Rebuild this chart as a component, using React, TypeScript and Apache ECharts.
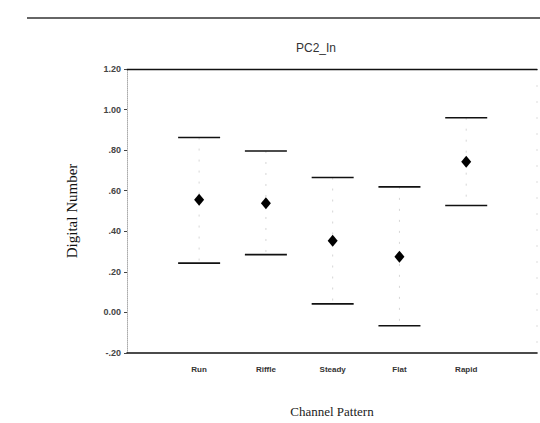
import React, { useEffect, useRef } from "react";
import * as echarts from "echarts";

const categories = ["Run", "Riffle", "Steady", "Flat", "Rapid"];
const meanValues = [0.555, 0.538, 0.353, 0.275, 0.743];
const upperValues = [0.862, 0.796, 0.665, 0.619, 0.96];
const lowerValues = [0.243, 0.285, 0.042, -0.066, 0.527];
const yTickValues = [-0.2, 0, 0.2, 0.4, 0.6, 0.8, 1.0, 1.2];
const yTickLabels = ["-.20", "0.00", ".20", ".40", ".60", ".80", "1.00", "1.20"];
const categoryPositions = [1, 2, 3, 4, 5];

export default function App() {
  const ref = useRef<HTMLDivElement>(null);

  useEffect(() => {
    if (!ref.current) return;
    const chart = echarts.init(ref.current, undefined, { renderer: "svg" });

    const errorData = categories.map((c, i) => [categoryPositions[i], lowerValues[i], upperValues[i]]);
    const meanData = categories.map((c, i) => [categoryPositions[i], meanValues[i]]);

    const yLabel = (v: number) => {
      let best = 0;
      let bd = Infinity;
      yTickValues.forEach((t, i) => {
        const d = Math.abs(t - v);
        if (d < bd) {
          bd = d;
          best = i;
        }
      });
      return yTickLabels[best];
    };

    chart.setOption({
      animation: false,
      backgroundColor: "#ffffff",
      grid: { left: 127, right: 3, top: 69, bottom: 70 },
      graphic: [
        {
          type: "line",
          shape: { x1: 27, y1: 18, x2: 540, y2: 18 },
          style: { stroke: "#333", lineWidth: 1.4 },
        },
        {
          type: "text",
          x: 316,
          y: 48,
          style: {
            text: "PC2_In",
            textAlign: "center",
            textVerticalAlign: "middle",
            fontSize: 12,
            fontFamily: "Liberation Sans Narrow, Liberation Sans, sans-serif",
            fill: "#333",
          },
        },
        {
          type: "line",
          shape: { x1: 537, y1: 69, x2: 537, y2: 353 },
          style: { stroke: "#ddd", lineWidth: 1, lineDash: [2, 14] },
        },
      ],
      xAxis: [
        {
          type: "value",
          min: -0.08,
          max: 6.06,
          position: "bottom",
          splitLine: { show: false },
          axisTick: { show: false },
          axisLine: { show: true, onZero: false, lineStyle: { color: "#111", width: 1.6 } },
          axisLabel: {
            customValues: categoryPositions,
            formatter: (v: number) => categories[Math.round(v) - 1] ?? "",
            fontSize: 8,
            fontFamily: "Liberation Sans, sans-serif",
            fontWeight: "bold",
            color: "#333",
            margin: 12,
          },
          name: "Channel Pattern",
          nameLocation: "middle",
          nameGap: 52,
          nameTextStyle: {
            fontFamily: "Liberation Serif, serif",
            fontSize: 13,
            color: "#222",
          },
        },
        {
          type: "value",
          min: -0.08,
          max: 6.06,
          position: "top",
          splitLine: { show: false },
          axisTick: { show: false },
          axisLabel: { show: false },
          axisLine: { show: true, onZero: false, lineStyle: { color: "#111", width: 1.4 } },
        },
      ],
      yAxis: {
        type: "value",
        min: -0.2,
        max: 1.2,
        interval: 0.2,
        splitLine: { show: false },
        axisLine: { show: true, onZero: false, lineStyle: { color: "#aaa", width: 1, type: "dotted" } },
        axisTick: { show: true, length: 3, lineStyle: { color: "#444", width: 1 } },
        axisLabel: {
          formatter: yLabel,
          fontSize: 9,
          fontFamily: "Liberation Sans, sans-serif",
          fontWeight: "bold",
          color: "#444",
          margin: 6,
        },
        name: "Digital Number",
        nameLocation: "middle",
        nameGap: 48,
        nameRotate: 90,
        nameTextStyle: {
          fontFamily: "Liberation Serif, serif",
          fontSize: 15,
          color: "#111",
        },
      },
      series: [
        {
          type: "custom",
          xAxisIndex: 0,
          data: errorData,
          renderItem: (params: any, api: any) => {
            const x = api.value(0);
            const lo = api.value(1);
            const hi = api.value(2);
            const pHi = api.coord([x, hi]);
            const pLo = api.coord([x, lo]);
            const hw = 21;
            return {
              type: "group",
              children: [
                {
                  type: "line",
                  shape: { x1: pHi[0], y1: pHi[1], x2: pLo[0], y2: pLo[1] },
                  style: { stroke: "#ccc", lineWidth: 0.8, lineDash: [2, 9] },
                },
                {
                  type: "line",
                  shape: { x1: pHi[0] - hw, y1: pHi[1], x2: pHi[0] + hw, y2: pHi[1] },
                  style: { stroke: "#111", lineWidth: 1.6 },
                },
                {
                  type: "line",
                  shape: { x1: pLo[0] - hw, y1: pLo[1], x2: pLo[0] + hw, y2: pLo[1] },
                  style: { stroke: "#111", lineWidth: 1.6 },
                },
              ],
            };
          },
          z: 2,
        },
        {
          type: "scatter",
          xAxisIndex: 0,
          data: meanData,
          symbol: "diamond",
          symbolSize: [10, 12],
          itemStyle: { color: "#000", opacity: 1 },
          z: 3,
        },
      ],
    });

    return () => chart.dispose();
  }, []);

  return (
    <div
      ref={ref}
      style={{ position: "fixed", left: 0, top: 0, width: 540, height: 423, background: "#fff" }}
    />
  );
}
